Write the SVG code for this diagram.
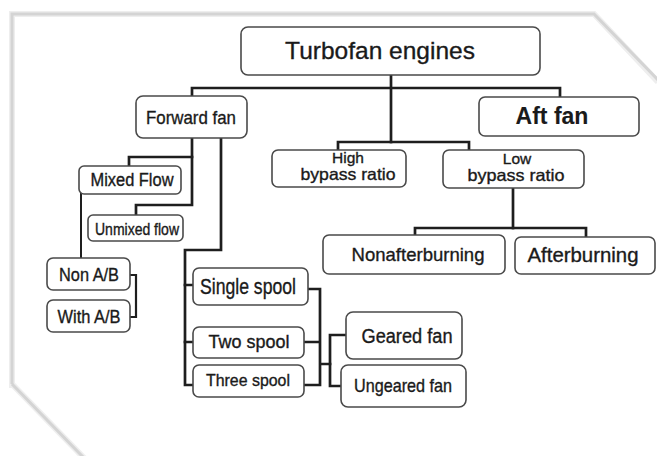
<svg xmlns="http://www.w3.org/2000/svg" width="657" height="456" viewBox="0 0 657 456">
<style>
.box{fill:#fff;stroke:#4a4a4a;stroke-width:1.6}
.t{font-family:"Liberation Sans",Arial,sans-serif;fill:#1a1a1a;stroke:#1a1a1a;stroke-width:0.35;text-anchor:middle}
.c{fill:none;stroke:#1e1e1e;stroke-width:2.7;stroke-linejoin:miter;stroke-linecap:square}
.paper{fill:none;stroke:#d4d4d4;stroke-width:3}
.shadow{fill:none;stroke:#eeeeee;stroke-width:6}
</style>
<rect width="657" height="456" fill="#fff"/>
<g id="paper">
<polyline class="shadow" points="12,388 12,14 594,14 658,82"/>
<polyline class="shadow" points="12,384 84,458"/>
<polyline class="paper" points="12,384 12,14 594,14 658,80"/>
<polyline class="paper" points="12,384 83,457"/>
</g>
<g id="connectors">
<path class="c" d="M391,75 V142"/>
<path class="c" d="M192,96 V88 H560 V97"/>
<path class="c" d="M338,150 V142 H469 V150"/>
<path class="c" d="M192,138 V205 H136 V215"/>
<path class="c" d="M192,157 H129 V166"/>
<path class="c" d="M221,138 V250 H185 V385 H193"/>
<path class="c" d="M185,285 H193 M185,342 H193"/>
<path class="c" style="stroke-width:2" d="M81,194 V258"/>
<path class="c" style="stroke-width:2.2" d="M130,275 H136 V317 H130"/>
<path class="c" d="M308,289 H320 V385 H304 M304,342 H320 M320,364 H330"/>
<path class="c" d="M346,335 H330 V386 H341"/>
<path class="c" d="M513,188 V228"/>
<path class="c" d="M415,235 V228 H586 V237"/>
</g>
<g id="turbofan"><rect class="box" x="241" y="27" width="299" height="48" rx="7"/><text class="t" x="380" y="59" font-size="24.5">Turbofan engines</text></g>
<g id="forward-fan"><rect class="box" x="136" y="96" width="111" height="42" rx="7"/><text class="t" x="191" y="124" font-size="19" textLength="90" lengthAdjust="spacingAndGlyphs">Forward fan</text></g>
<g id="aft-fan"><rect class="box" x="479" y="97" width="160" height="39" rx="6"/><text class="t" x="552" y="124" font-size="23" font-weight="bold" style="stroke-width:0.1">Aft fan</text></g>
<g id="high-bypass"><rect class="box" x="272" y="150" width="134" height="37" rx="6"/><text class="t" x="348" y="163" font-size="15.5">High</text><text class="t" x="348" y="180" font-size="16.5" textLength="95" lengthAdjust="spacingAndGlyphs">bypass ratio</text></g>
<g id="low-bypass"><rect class="box" x="443" y="150" width="141" height="38" rx="6"/><text class="t" x="517" y="164" font-size="15.5">Low</text><text class="t" x="516" y="181" font-size="16.5" textLength="97" lengthAdjust="spacingAndGlyphs">bypass ratio</text></g>
<g id="mixed-flow"><rect class="box" x="79" y="166" width="102" height="28" rx="5"/><text class="t" x="132" y="186" font-size="18" textLength="83" lengthAdjust="spacingAndGlyphs">Mixed Flow</text></g>
<g id="unmixed-flow"><rect class="box" x="88" y="215" width="95" height="26" rx="5"/><text class="t" x="137" y="235" font-size="16" textLength="84" lengthAdjust="spacingAndGlyphs">Unmixed flow</text></g>
<g id="non-ab"><rect class="box" x="47" y="258" width="83" height="32" rx="6"/><text class="t" x="89" y="281" font-size="19" textLength="60" lengthAdjust="spacingAndGlyphs">Non A/B</text></g>
<g id="with-ab"><rect class="box" x="47" y="300" width="83" height="32" rx="6"/><text class="t" x="89" y="323" font-size="19" textLength="63" lengthAdjust="spacingAndGlyphs">With A/B</text></g>
<g id="nonafterburning"><rect class="box" x="323" y="235" width="182" height="39" rx="6"/><text class="t" x="418" y="261" font-size="19" textLength="133" lengthAdjust="spacingAndGlyphs">Nonafterburning</text></g>
<g id="afterburning"><rect class="box" x="515" y="237" width="140" height="37" rx="6"/><text class="t" x="583" y="262" font-size="20.5" textLength="111" lengthAdjust="spacingAndGlyphs">Afterburning</text></g>
<g id="single-spool"><rect class="box" x="193" y="268" width="115" height="37" rx="6"/><text class="t" x="248" y="294" font-size="22" textLength="96" lengthAdjust="spacingAndGlyphs">Single spool</text></g>
<g id="two-spool"><rect class="box" x="193" y="327" width="111" height="31" rx="6"/><text class="t" x="249" y="348" font-size="18" textLength="81" lengthAdjust="spacingAndGlyphs">Two spool</text></g>
<g id="three-spool"><rect class="box" x="193" y="365" width="111" height="32" rx="6"/><text class="t" x="248" y="386" font-size="16.5" textLength="84" lengthAdjust="spacingAndGlyphs">Three spool</text></g>
<g id="geared-fan"><rect class="box" x="346" y="312" width="116" height="47" rx="7"/><text class="t" x="407" y="343" font-size="20" textLength="91" lengthAdjust="spacingAndGlyphs">Geared fan</text></g>
<g id="ungeared-fan"><rect class="box" x="341" y="365" width="125" height="42" rx="7"/><text class="t" x="403" y="392" font-size="18.5" textLength="98" lengthAdjust="spacingAndGlyphs">Ungeared fan</text></g>
</svg>
